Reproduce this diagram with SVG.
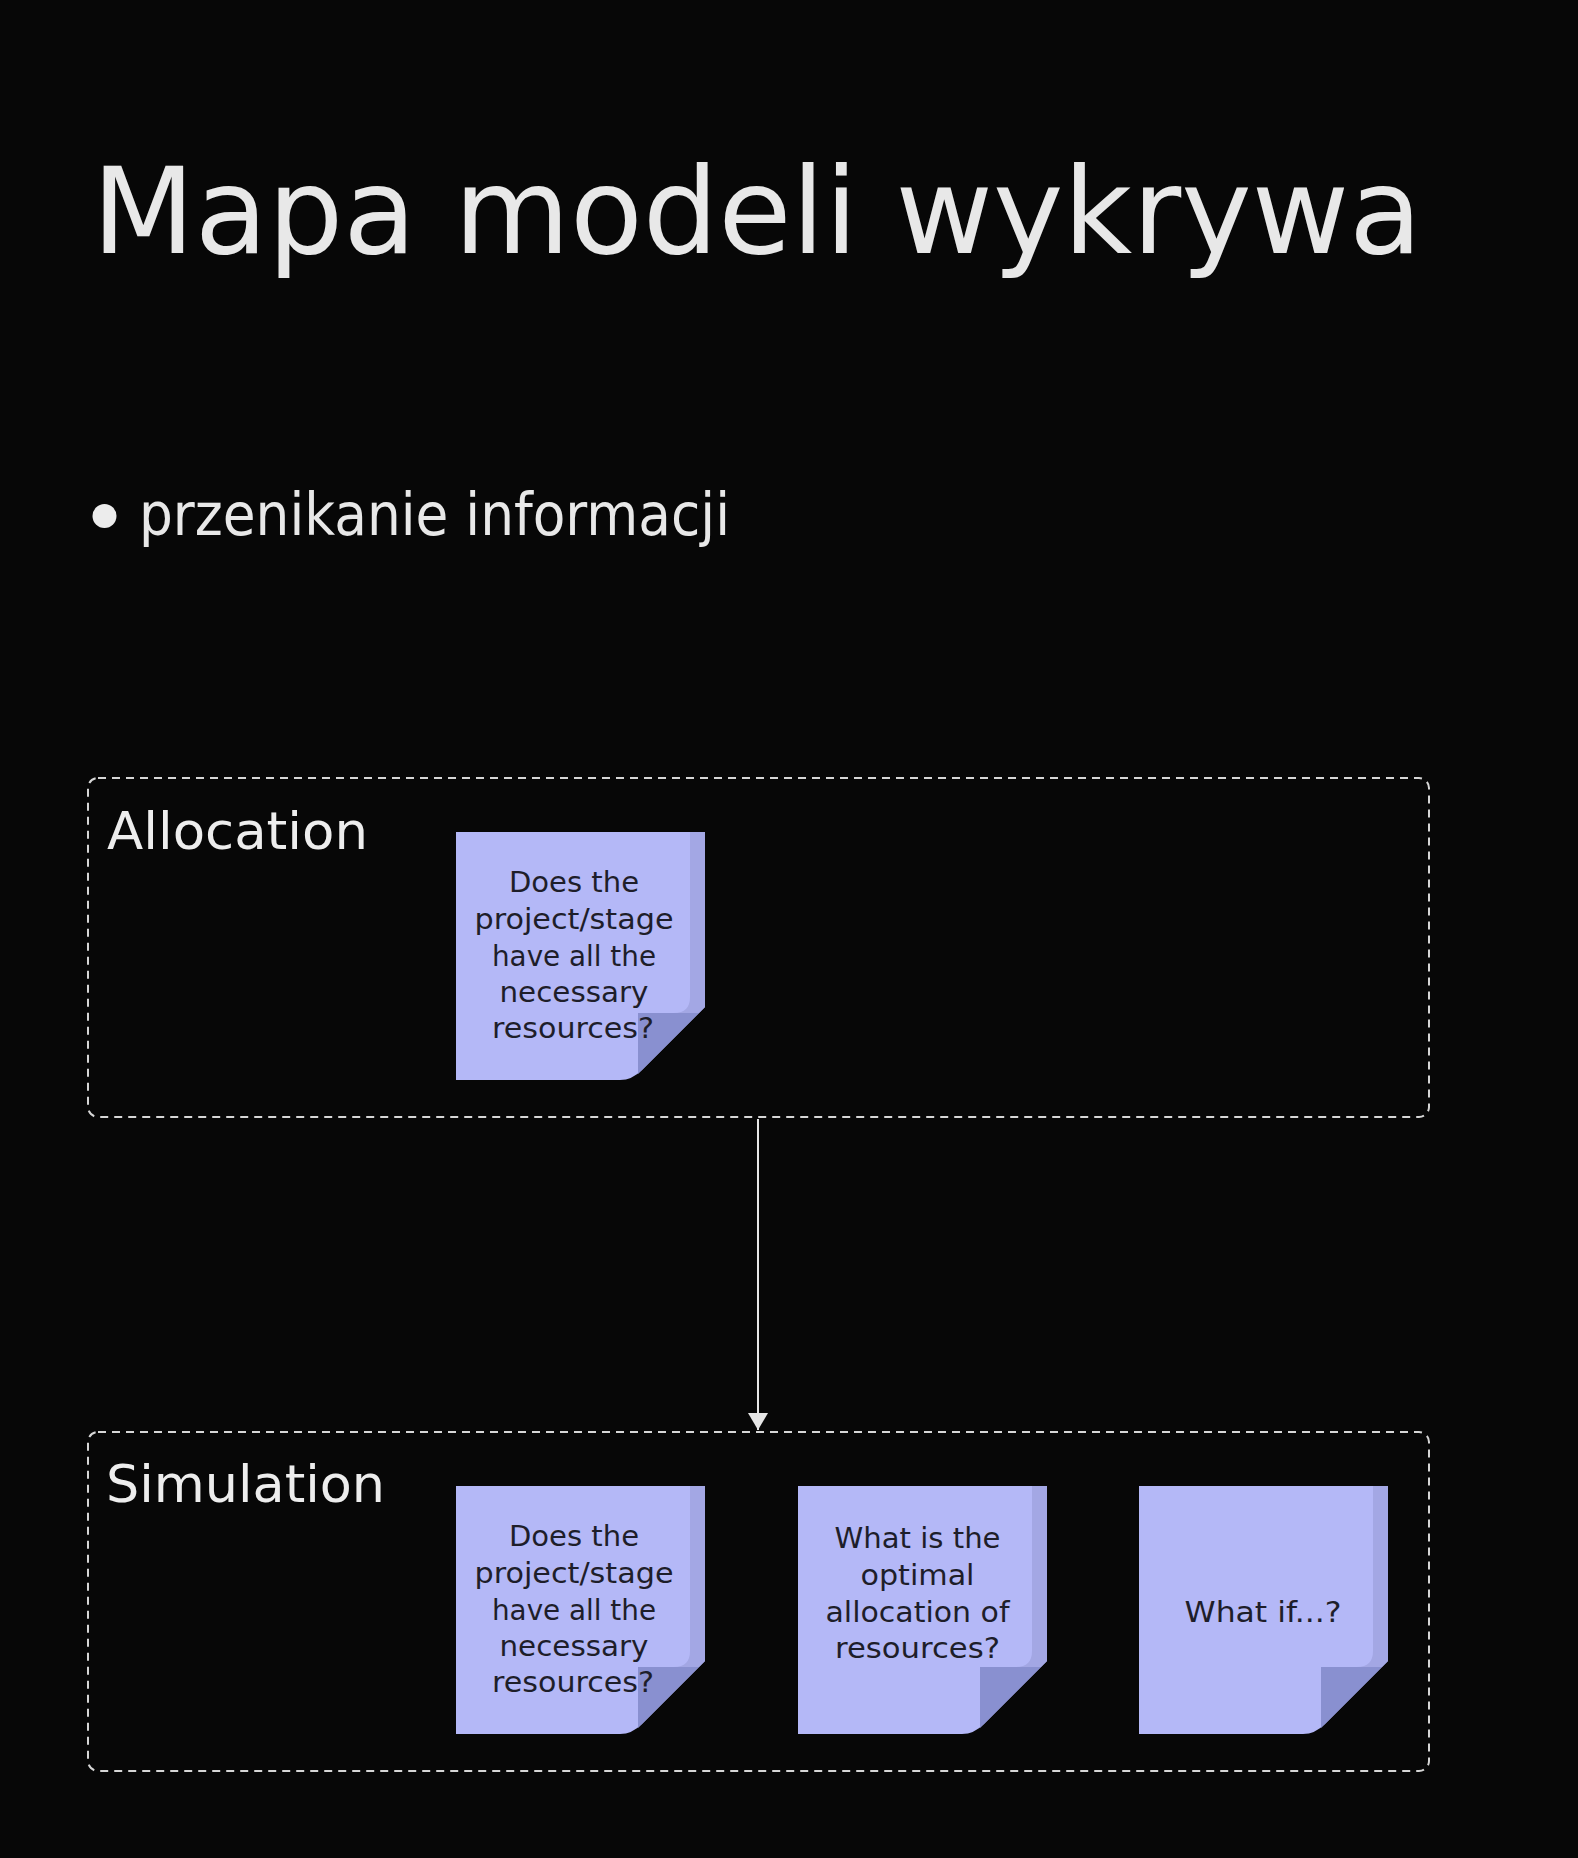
<svg xmlns="http://www.w3.org/2000/svg" width="1578" height="1858" viewBox="0 0 1578 1858">
<style>
.title{font-family:"DejaVu Sans",sans-serif;fill:#e8e8e8}
.group{fill:none;stroke:#d6d6d6;stroke-width:2;stroke-dasharray:8 6}
.lbl{font-family:"DejaVu Sans",sans-serif;font-size:51px;fill:#ededed}
.note{fill:#b4b8f7}
.strip{fill:#a3a7e4}
.fold{fill:#8990d0}
.nt{font-family:"DejaVu Sans",sans-serif;font-size:28px;fill:#1e1e2a;text-anchor:middle}
.conn{stroke:#e6e6e6;stroke-width:2;fill:none}
</style>
<defs>
<marker id="arr" viewBox="0 0 17 20" refX="17" refY="10" markerWidth="17" markerHeight="20" markerUnits="userSpaceOnUse" orient="auto">
<path d="M0,0 L17,10 L0,20 Z" fill="#e6e6e6"/>
</marker>
<g id="sticky">
<path class="note" d="M0,0 H249 V175 L186,238 Q176,248 164,248 H0 Z"/>
<path class="strip" d="M234,0 H249 V175 L243,181 H218 Q234,181 234,165 Z"/>
<path class="fold" d="M182,181 H243 L182,242 Z"/>
</g>
</defs>
<rect width="1578" height="1858" fill="#070707"/>
<g id="title">
<text class="title" x="92" y="253" font-size="120" textLength="1330" lengthAdjust="spacingAndGlyphs">Mapa modeli wykrywa</text>
</g>
<g id="bullet">
<circle cx="104.5" cy="516" r="12" fill="#ececec"/>
<text class="title" x="139" y="535" font-size="58" textLength="591" lengthAdjust="spacingAndGlyphs">przenikanie informacji</text>
</g>
<g id="allocation">
<rect class="group" x="88" y="778" width="1341" height="339" rx="10"/>
<text class="lbl" x="107" y="849" textLength="261" lengthAdjust="spacingAndGlyphs">Allocation</text>
</g>
<g id="alloc-note">
<use href="#sticky" x="456" y="832"/>
<text class="nt" x="574" y="892.3" textLength="130" lengthAdjust="spacingAndGlyphs">Does the</text>
<text class="nt" x="574" y="928.5" textLength="199" lengthAdjust="spacingAndGlyphs">project/stage</text>
<text class="nt" x="574" y="965.5" textLength="164" lengthAdjust="spacingAndGlyphs">have all the</text>
<text class="nt" x="574" y="1001.7" textLength="149" lengthAdjust="spacingAndGlyphs">necessary</text>
<text class="nt" x="573" y="1038.3" textLength="162" lengthAdjust="spacingAndGlyphs">resources?</text>
</g>
<g id="simulation">
<rect class="group" x="88" y="1432" width="1341" height="339" rx="10"/>
<text class="lbl" x="106" y="1502" textLength="279" lengthAdjust="spacingAndGlyphs">Simulation</text>
</g>
<g id="sim-note-1">
<use href="#sticky" x="456" y="1486"/>
<text class="nt" x="574" y="1546.3" textLength="130" lengthAdjust="spacingAndGlyphs">Does the</text>
<text class="nt" x="574" y="1582.5" textLength="199" lengthAdjust="spacingAndGlyphs">project/stage</text>
<text class="nt" x="574" y="1619.5" textLength="164" lengthAdjust="spacingAndGlyphs">have all the</text>
<text class="nt" x="574" y="1655.7" textLength="149" lengthAdjust="spacingAndGlyphs">necessary</text>
<text class="nt" x="573" y="1692.3" textLength="162" lengthAdjust="spacingAndGlyphs">resources?</text>
</g>
<g id="sim-note-2">
<use href="#sticky" x="798" y="1486"/>
<text class="nt" x="917.5" y="1548.3" textLength="166" lengthAdjust="spacingAndGlyphs">What is the</text>
<text class="nt" x="917.5" y="1585" textLength="114" lengthAdjust="spacingAndGlyphs">optimal</text>
<text class="nt" x="917.5" y="1621.7" textLength="184" lengthAdjust="spacingAndGlyphs">allocation of</text>
<text class="nt" x="917.5" y="1658.3" textLength="165" lengthAdjust="spacingAndGlyphs">resources?</text>
</g>
<g id="sim-note-3">
<use href="#sticky" x="1139" y="1486"/>
<text class="nt" x="1263" y="1621.7" textLength="157" lengthAdjust="spacingAndGlyphs">What if...?</text>
</g>
<g id="connectors">
<line class="conn" x1="758" y1="1119" x2="758" y2="1430" marker-end="url(#arr)"/>
</g>
</svg>
